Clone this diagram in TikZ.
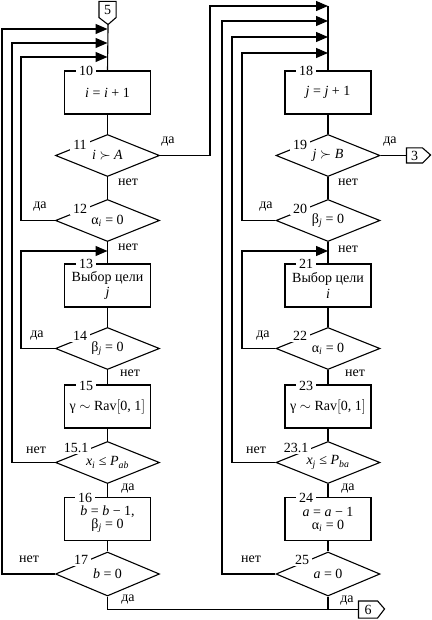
\documentclass[tikz,border=0pt]{standalone}
\usepackage{fontspec}
\setmainfont{Liberation Serif}
\usetikzlibrary{arrows.meta,shapes.geometric}
\newcommand\mi[1]{\textit{#1}}
\newcommand\lowr[1]{\raisebox{-3pt}{#1}}
\begin{document}
\begin{tikzpicture}[x=1pt,y=-1pt,line width=1.1pt,
  every node/.style={font=\fontsize{14}{15}\selectfont},
  box/.style={draw,rectangle,minimum width=86pt,minimum height=43pt,inner sep=1pt,align=center},
  dec/.style={draw,diamond,minimum width=104pt,minimum height=42pt,inner sep=0pt,aspect=2.5},
  num/.style={fill=white,inner xsep=3pt,inner ysep=1pt},
  lab/.style={inner sep=0pt},
  conn/.style={inner sep=0pt,minimum width=16pt,minimum height=15pt},
  arr/.style={-{Triangle[length=12pt,width=10pt]}},
]
\useasboundingbox (0,0) rectangle (431,620);

% ---- left column
\node[box] (b10) at (107.5,92.5) {\mi{i} = \mi{i} + 1};
\node[dec] (d11) at (107.5,155.5) {\lowr{\mi{i} $\succ$ \mi{A}}};
\node[dec] (d12) at (107.5,220.5) {α\textsubscript{\mi{i}} = 0};
\node[box] (b13) at (107.5,285.5) {\lowr{\shortstack{Выбор цели\\\mi{j}}}};
\node[dec] (d14) at (107.5,348.5) {β\textsubscript{\mi{j}} = 0};
\node[box] (b15) at (107.5,406.5) {γ $\sim$ Rav$\Bigl[$0, 1$\Bigr]$};
\node[dec] (d151) at (107.5,462.5) {\lowr{\mi{x}\textsubscript{\mi{i}} ≤ \mi{P}\textsubscript{\mi{ab}}}};
\node[box,font=\fontsize{14}{13}\selectfont] (b16) at (107.5,519) {\mi{b} = \mi{b} − 1,\\β\textsubscript{\mi{j}} = 0};
\node[dec,minimum height=44pt] (d17) at (107.5,574) {\lowr{\mi{b} = 0}};

% ---- right column
\node[box] (b18) at (328,92.5) {\mi{j} = \mi{j} + 1};
\node[dec] (d19) at (328,155.5) {\lowr{\mi{j} $\succ$ \mi{B}}};
\node[dec] (d20) at (328,220.5) {β\textsubscript{\mi{j}} = 0};
\node[box] (b21) at (328,285.5) {\lowr{\shortstack{Выбор цели\\\mi{i}}}};
\node[dec] (d22) at (328,348.5) {α\textsubscript{\mi{i}} = 0};
\node[box] (b23) at (328,406.5) {γ $\sim$ Rav$\Bigl[$0, 1$\Bigr]$};
\node[dec] (d231) at (328,462.5) {\lowr{\mi{x}\textsubscript{\mi{j}} ≤ \mi{P}\textsubscript{\mi{ba}}}};
\node[box,font=\fontsize{14}{13}\selectfont] (b24) at (328,519) {\mi{a} = \mi{a} − 1\\α\textsubscript{\mi{i}} = 0};
\node[dec,minimum height=44pt] (d25) at (328,574) {\lowr{\mi{a} = 0}};

% ---- block numbers
\node[num] (n10) at (86,71) {10};
\node[num] (n11) at (80,145) {11};
\node[num] (n12) at (80,209) {12};
\node[num] (n13) at (86,264) {13};
\node[num] (n14) at (80,336) {14};
\node[num] (n15) at (86,386) {15};
\node[num] (n151) at (76,448) {15.1};
\node[num] (n16) at (85,498) {16};
\node[num] (n17) at (81,560) {17};
\node[num] (n18) at (306,71) {18};
\node[num] (n19) at (300,145) {19};
\node[num] (n20) at (300,209) {20};
\node[num] (n21) at (306,264) {21};
\node[num] (n22) at (300,336) {22};
\node[num] (n23) at (306,386) {23};
\node[num] (n231) at (296,448) {23.1};
\node[num] (n24) at (306,498) {24};
\node[num] (n25) at (302,560) {25};

% ---- connectors
\node[conn] (c5) at (107.5,9.5) {5};
\draw (c5.north west) -- (c5.north east) -- (c5.south east) -- ++(-8,7) coordinate (c5tip) -- (c5.south west) -- cycle;
\node[conn,minimum width=15pt,minimum height=14pt] (c3) at (414.5,155.5) {3};
\draw (c3.north west) -- (c3.north east) -- ++(8,7) -- (c3.south east) -- (c3.south west) -- cycle;
\node[conn,minimum width=18pt,minimum height=16pt] (c6) at (368,609.5) {6};
\draw (c6.north west) -- (c6.north east) -- ++(7,8) -- (c6.south east) -- (c6.south west) -- cycle;

% ---- main flow
\draw (c5tip) -- (b10.north);
\draw (b10) -- (d11);
\draw (d11) -- (d12);
\draw (d12) -- (b13);
\draw (b13) -- (d14);
\draw (d14) -- (b15);
\draw (b15) -- (d151);
\draw (d151) -- (b16);
\draw (b16) -- (d17);
\draw (d17.south) |- (c6.west);
\draw (b18) -- (d19);
\draw (d19) -- (d20);
\draw (d20) -- (b21);
\draw (b21) -- (d22);
\draw (d22) -- (b23);
\draw (b23) -- (d231);
\draw (d231) -- (b24);
\draw (b24) -- (d25);
\draw (d25.south) -- (d25.south |- c6.west);
\draw (d19.east) -- (c3.west);

% ---- loop-back arrows, left
\coordinate (l1) at (107.5,29);
\coordinate (l2) at (107.5,43);
\coordinate (l3) at (107.5,57);
\coordinate (l4) at (107.5,251);
\draw[arr] (d17.west) -| (2,29) -- (l1);
\draw[arr] (d151.west) -| (12,43) -- (l2);
\draw[arr] (d12.west) -| (21,57) -- (l3);
\draw[arr] (d14.west) -| (21,251) -- (l4);

% ---- loop-back arrows, right
\coordinate (r1) at (328,6);
\coordinate (r2) at (328,21);
\coordinate (r3) at (328,37);
\coordinate (r4) at (328,53);
\coordinate (r5) at (328,251);
\draw[arr] (d11.east) -| (210,6) -- (r1);
\draw[arr] (d25.west) -| (222,21) -- (r2);
\draw[arr] (d231.west) -| (232,37) -- (r3);
\draw[arr] (d20.west) -| (242,53) -- (r4);
\draw[arr] (d22.west) -| (242,251) -- (r5);
\draw (r1) -- (b18.north);

% ---- yes / no labels
\node[lab] (y11) at (168,142) {да};
\node[lab] (n11l) at (128,182) {нет};
\node[lab] (y12) at (40,207) {да};
\node[lab] (n12l) at (128,247) {нет};
\node[lab] (y14) at (37,336) {да};
\node[lab] (n14l) at (130,373) {нет};
\node[lab] (n151l) at (36,450) {нет};
\node[lab] (y151) at (128,489) {да};
\node[lab] (n17l) at (29,559) {нет};
\node[lab] (y17) at (128,600) {да};
\node[lab] (y19) at (390,142) {да};
\node[lab] (n19l) at (348,182) {нет};
\node[lab] (y20) at (266,207) {да};
\node[lab] (n20l) at (348,249) {нет};
\node[lab] (y22) at (263,336) {да};
\node[lab] (n22l) at (355,373) {нет};
\node[lab] (n231l) at (256,450) {нет};
\node[lab] (y231) at (348,489) {да};
\node[lab] (n25l) at (251,559) {нет};
\node[lab] (y25) at (347,601) {да};
\end{tikzpicture}
\end{document}
